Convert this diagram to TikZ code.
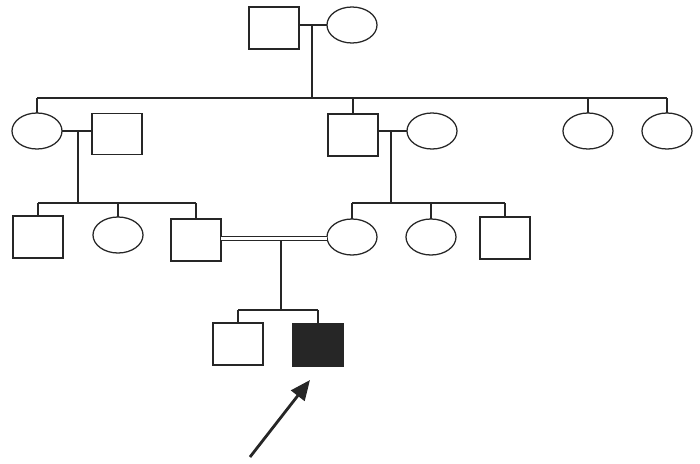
\documentclass[tikz,border=0pt]{standalone}
\usepackage{tikz}
\usetikzlibrary{arrows.meta, shapes.geometric}

\begin{document}
\begin{tikzpicture}[
  x=0.025cm, y=-0.025cm,
  line width=0.9pt, draw=black!85,
  male/.style={rectangle, draw, minimum width=1.25cm, minimum height=1.05cm, inner sep=0pt, outer sep=0pt},
  female/.style={ellipse, draw, minimum width=1.25cm, minimum height=0.9cm, inner sep=0pt, outer sep=0pt},
  affected/.style={male, fill=black!85},
  pointer/.style={-{Triangle[length=0.5cm, width=0.42cm]}, line width=2pt}
]
  \useasboundingbox (0,0) rectangle (700,463);

  % generation I
  \node[male] (m1) at (274,28) {};
  \node[female] (f1) at (352,25) {};
  \coordinate (j1) at (312,25);
  \coordinate (sib1) at (38,98);

  % generation II
  \node[female] (f2a) at (37,131) {};
  \node[male, minimum height=1.03cm] (m2a) at (117,134) {};
  \node[male] (m2b) at (353,135) {};
  \node[female] (f2b) at (432,131) {};
  \node[female] (f2c) at (588,131) {};
  \node[female] (f2d) at (667,131) {};
  \coordinate (j2a) at (78,131);
  \coordinate (j2b) at (391,131);
  \coordinate (sib2) at (38,203);

  % generation III
  \node[male] (m3a) at (38,237) {};
  \node[female] (f3a) at (118,235) {};
  \node[male] (m3b) at (196,240) {};
  \node[female] (f3b) at (352,237) {};
  \node[female] (f3c) at (431,237) {};
  \node[male] (m3c) at (505,238) {};
  \coordinate (j3) at (281,238.5);
  \coordinate (sib3) at (239,310);

  % generation IV
  \node[male] (m4a) at (238,344) {};
  \node[affected] (m4b) at (318,345) {};

  % marriages and descent lines
  \draw (f1.west -| m1.east) -- (f1.west);
  \draw (j1) -- (j1 |- sib1);
  \draw (f2a.north |- sib1) -- (f2d.north |- sib1);
  \foreach \c in {f2a, m2b, f2c, f2d}
    \draw (\c.north) -- (\c.north |- sib1);

  \draw (f2a.east) -- (f2a.east -| m2a.west);
  \draw (f2b.west -| m2b.east) -- (f2b.west);
  \draw (j2a) -- (j2a |- sib2);
  \draw (j2b) -- (j2b |- sib2);
  \draw (m3a.north |- sib2) -- (m3b.north |- sib2);
  \draw (f3b.north |- sib2) -- (m3c.north |- sib2);
  \foreach \c in {m3a, f3a, m3b, f3b, f3c, m3c}
    \draw (\c.north) -- (\c.north |- sib2);

  % consanguineous marriage
  \draw (j3) -- (j3 |- sib3);
  \draw[double, double distance=0.085cm] (m3b.east |- j3) -- (f3b.west |- j3);
  \draw (m4a.north |- sib3) -- (m4b.north |- sib3);
  \draw (m4a.north) -- (m4a.north |- sib3);
  \draw (m4b.north) -- (m4b.north |- sib3);

  % proband
  \coordinate (ptail) at (250,457);
  \coordinate (ptip) at (310,380);
  \draw[pointer] (ptail) -- (ptip);
\end{tikzpicture}
\end{document}
